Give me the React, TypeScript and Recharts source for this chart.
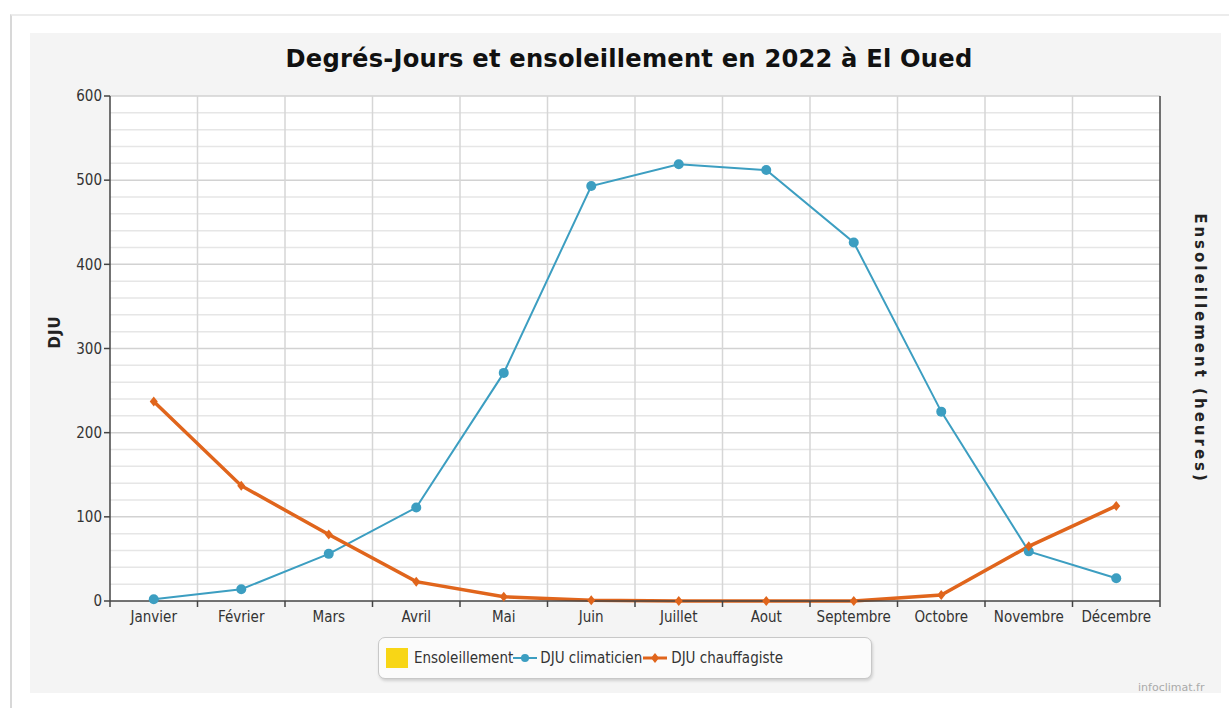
import React from "react";
import {
  Bar,
  CartesianGrid,
  ComposedChart,
  Line,
  ReferenceLine,
  XAxis,
  YAxis,
} from "recharts";

const months = [
  "Janvier",
  "Février",
  "Mars",
  "Avril",
  "Mai",
  "Juin",
  "Juillet",
  "Aout",
  "Septembre",
  "Octobre",
  "Novembre",
  "Décembre",
];
const djuClimaticien = [2, 14, 56, 111, 271, 493, 519, 512, 426, 225, 59, 27];
const djuChauffagiste = [237, 137, 79, 23, 5, 1, 0, 0, 0, 7, 65, 113];
const ensoleillement: (number | null)[] = [null, null, null, null, null, null, null, null, null, null, null, null];
const yTicks = [0, 100, 200, 300, 400, 500, 600];

const BLUE = "#3c9ec1";
const ORANGE = "#e0651c";
const FONT = "'DejaVu Sans Condensed', 'DejaVu Sans', sans-serif";

const chartData = months.map((m, i) => ({
  idx: i,
  month: m,
  clim: djuClimaticien[i],
  chauf: djuChauffagiste[i],
  soleil: ensoleillement[i],
}));

// gridlines every 20, category boundaries every half step
const minorGrid = Array.from({ length: 31 }, (_, i) => i * 20).filter((v) => v % 100 !== 0);
const boundaries = Array.from({ length: 13 }, (_, i) => i - 0.5);
const centers = months.map((_, i) => i);

const Diamond = (props: any) => {
  const { cx, cy } = props;
  if (cx == null || cy == null) return null;
  return (
    <path
      d={`M${cx},${cy - 5} L${cx + 4},${cy} L${cx},${cy + 5} L${cx - 4},${cy} Z`}
      fill={ORANGE}
    />
  );
};

function LegendBox() {
  const item = { display: "flex", alignItems: "center" } as const;
  return (
    <div
      style={{
        position: "absolute",
        left: 378,
        top: 637,
        width: 494,
        height: 42,
        border: "1px solid #c8c8c8",
        borderRadius: 7,
        background: "#fbfbfb",
        boxShadow: "1px 2px 3px rgba(0,0,0,0.15)",
        display: "flex",
        alignItems: "center",
        paddingLeft: 7,
        boxSizing: "border-box",
        fontFamily: FONT,
        fontSize: 15,
        color: "#333",
      }}
    >
      <div style={item}>
        <div style={{ width: 22, height: 20, background: "#f8d616", marginRight: 6 }} />
        <span>Ensoleillement</span>
      </div>
      <div style={item}>
        <svg width={24} height={14}>
          <line x1={0} y1={7} x2={24} y2={7} stroke={BLUE} strokeWidth={2} />
          <circle cx={12} cy={7} r={4} fill={BLUE} />
        </svg>
        <span style={{ marginLeft: 3 }}>DJU climaticien</span>
      </div>
      <div style={item}>
        <svg width={26} height={14}>
          <line x1={1} y1={7} x2={25} y2={7} stroke={ORANGE} strokeWidth={3} />
          <path d="M13,2 L17,7 L13,12 L9,7 Z" fill={ORANGE} />
        </svg>
        <span style={{ marginLeft: 3 }}>DJU chauffagiste</span>
      </div>
    </div>
  );
}

export default function App() {
  return (
    <div style={{ position: "absolute", left: 0, top: 0, width: 1229, height: 708, background: "#fff", overflow: "hidden" }}>
      {/* outer frame */}
      <div
        style={{
          position: "absolute",
          left: 10,
          top: 14,
          width: 1219,
          height: 694,
          borderLeft: "2px solid #d8d8d8",
          borderTop: "2px solid #ececec",
        }}
      />
      <div style={{ position: "absolute", left: 30, top: 33, width: 1191, height: 660, background: "#f4f4f4" }} />
      <div
        style={{
          position: "absolute",
          left: 0,
          top: 45,
          width: 1258,
          textAlign: "center",
          fontFamily: "'DejaVu Sans', sans-serif",
          fontWeight: "bold",
          fontSize: 24.2,
          letterSpacing: 0.2,
          color: "#111",
        }}
      >
        Degrés-Jours et ensoleillement en 2022 à El Oued
      </div>
      <div style={{ position: "absolute", left: 0, top: 0 }}>
        <ComposedChart
          width={1229}
          height={708}
          data={chartData}
          margin={{ top: 96, right: 19, bottom: 71, left: 50 }}
        >
          <CartesianGrid xAxisId={0} yAxisId="left" fill="#fff" horizontal={false} vertical={false} />
          <XAxis
            xAxisId={0}
            type="number"
            dataKey="idx"
            domain={[-0.5, 11.5]}
            ticks={boundaries}
            tickFormatter={() => ""}
            height={6}
            tickSize={6}
            stroke="#444"
            strokeWidth={1.5}
          />
          <XAxis
            xAxisId={1}
            type="number"
            dataKey="idx"
            domain={[-0.5, 11.5]}
            ticks={centers}
            interval={0}
            tickFormatter={(v: number) => months[v]}
            axisLine={false}
            tickLine={false}
            tickSize={2}
            height={30}
            tick={{ fill: "#333", fontSize: 15, fontFamily: FONT }}
          />
          <YAxis
            yAxisId="left"
            domain={[0, 600]}
            ticks={yTicks}
            width={60}
            tickSize={6}
            stroke="#444"
            strokeWidth={1.5}
            tick={{ fill: "#333", fontSize: 15, fontFamily: FONT }}
            label={{
              value: "DJU",
              angle: -90,
              position: "insideLeft",
              dx: 0,
              style: { fill: "#222", fontSize: 15, fontWeight: "bold", fontFamily: "'DejaVu Sans', sans-serif", letterSpacing: 1 },
            }}
          />
          <YAxis
            yAxisId="right"
            orientation="right"
            domain={[0, 100]}
            tick={false}
            tickLine={false}
            width={50}
            stroke="#444"
            strokeWidth={1.5}
            label={{
              value: "Ensoleillement (heures)",
              angle: 90,
              position: "center",
              dx: 15,
              style: { fill: "#222", fontSize: 15, fontWeight: "bold", fontFamily: "'DejaVu Sans', sans-serif", letterSpacing: 3 },
            }}
          />
          {minorGrid.map((v) => (
            <ReferenceLine key={"m" + v} yAxisId="left" xAxisId={0} y={v} stroke="#e6e6e6" strokeWidth={1.5} />
          ))}
          {yTicks.slice(1).map((v) => (
            <ReferenceLine key={"M" + v} yAxisId="left" xAxisId={0} y={v} stroke="#d2d2d2" strokeWidth={1.5} />
          ))}
          {boundaries.slice(1, -1).map((b) => (
            <ReferenceLine key={"b" + b} yAxisId="left" xAxisId={0} x={b} stroke="#d6d6d6" strokeWidth={1.5} />
          ))}
          <Bar yAxisId="right" xAxisId={0} dataKey="soleil" fill="#f8d616" isAnimationActive={false} />
          <Line
            yAxisId="left"
            xAxisId={0}
            dataKey="clim"
            stroke={BLUE}
            strokeWidth={2}
            dot={{ r: 5, fill: BLUE, stroke: "none" }}
            activeDot={false}
            isAnimationActive={false}
          />
          <Line
            yAxisId="left"
            xAxisId={0}
            dataKey="chauf"
            stroke={ORANGE}
            strokeWidth={3.5}
            dot={<Diamond />}
            activeDot={false}
            isAnimationActive={false}
          />
        </ComposedChart>
      </div>
      <LegendBox />
      <div
        style={{
          position: "absolute",
          left: 1138,
          top: 681,
          fontFamily: "'DejaVu Sans', sans-serif",
          fontSize: 11,
          color: "#aaa",
        }}
      >
        infoclimat.fr
      </div>
    </div>
  );
}
